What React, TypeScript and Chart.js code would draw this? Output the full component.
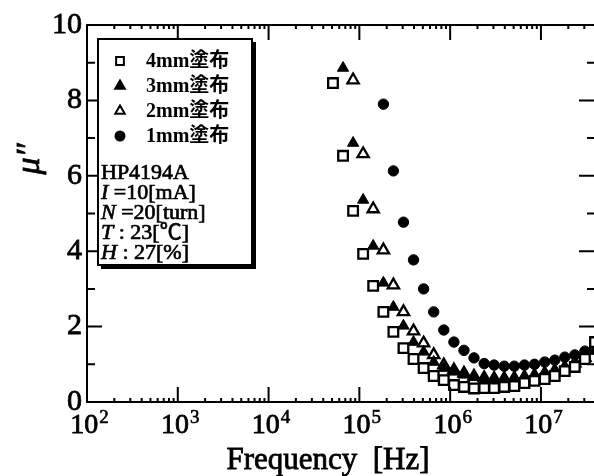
import React, { useEffect, useRef } from 'react';
import { Chart, registerables } from 'chart.js';
import { drawPoint } from 'chart.js/helpers';

Chart.register(...registerables);

// Frequency grid (Hz) shared by all series
const freqHz = [
  5.12e4, 6.61e4, 8.53e4, 1.1e5, 1.42e5, 1.84e5, 2.37e5, 3.06e5, 3.95e5,
  5.1e5, 6.59e5, 8.51e5, 1.1e6, 1.42e6, 1.83e6, 2.37e6, 3.05e6, 3.94e6,
  5.09e6, 6.58e6, 8.49e6, 1.1e7, 1.42e7, 1.83e7, 2.36e7, 3.05e7, 3.94e7,
];

const mm4 = [
  8.46, 6.53, 5.07, 3.93, 3.08, 2.39, 1.86, 1.43, 1.14, 0.9, 0.69, 0.58, 0.45,
  0.4, 0.36, 0.37, 0.37, 0.4, 0.42, 0.5, 0.56, 0.61, 0.69, 0.82, 0.93, 1.14, 1.59,
];
const mm3 = [
  null, 8.86, 6.87, 5.36, 4.14, 3.16, 2.52, 2.02, 1.59, 1.33, 1.06, 0.9, 0.8,
  0.72, 0.66, 0.64, 0.62, 0.62, 0.64, 0.66, 0.7, 0.76, 0.82, 0.9, 1.0, 1.12, 1.35,
];
const mm2 = [
  null, null, 8.54, 6.58, 5.12, 4.03, 3.1, 2.39, 1.88, 1.56, 1.25, 0.98, 0.85,
  0.76, 0.68, 0.64, 0.62, 0.62, 0.63, 0.66, 0.7, 0.76, 0.83, 0.92, 1.03, 1.18, 1.45,
];
const mm1 = [
  null, null, null, null, null, 7.9, 6.13, 4.77, 3.77, 3.0, 2.39, 1.91, 1.59,
  1.37, 1.17, 1.02, 0.98, 0.95, 0.95, 0.98, 1.0, 1.06, 1.11, 1.19, 1.25, 1.35, 1.5,
];

const seriesLabels = ['4mm塗布', '3mm塗布', '2mm塗布', '1mm塗布'];
const seriesStyles = ['rect', 'triangle', 'triangle', 'circle'];
const seriesFilled = [false, true, false, true];

const yTickValues = [0, 2, 4, 6, 8, 10];
const yMinorValues = [1, 3, 5, 7, 9];
const xDecades = [1e2, 1e3, 1e4, 1e5, 1e6, 1e7];
const xExponents = ['2', '3', '4', '5', '6', '7'];
const xMinorMultipliers = [2, 3, 4, 5, 6, 7, 8, 9];
const X_MIN = 100;
const X_MAX = 3.84e7;

const infoLines: [string, string][] = [
  ['', 'HP4194A'],
  ['I', ' =10[mA]'],
  ['N', ' =20[turn]'],
  ['T', ' : 23[℃]'],
  ['H', ' : 27[%]'],
];

const SERIF = '"Liberation Serif", "Times New Roman", serif';
const CJK = '"Liberation Serif", "Noto Sans CJK JP", serif';

function toPoints(vals: (number | null)[]) {
  const out: { x: number; y: number }[] = [];
  vals.forEach((v, i) => {
    if (v !== null) out.push({ x: freqHz[i], y: v });
  });
  return out;
}

function heavyText(ctx: CanvasRenderingContext2D, s: string, x: number, y: number, w = 0.8) {
  ctx.fillText(s, x, y);
  ctx.lineWidth = w;
  ctx.strokeText(s, x, y);
}

const framePlugin = {
  id: 'framePlugin',
  afterDraw(chart: any) {
    const { ctx, chartArea, scales } = chart;
    const { left, right, top, bottom } = chartArea;
    const xs = scales.x;
    const ys = scales.y;
    ctx.save();
    ctx.strokeStyle = '#000';
    ctx.fillStyle = '#000';
    ctx.lineWidth = 2;
    // frame
    ctx.beginPath();
    ctx.moveTo(right + 10, top);
    ctx.lineTo(left, top);
    ctx.lineTo(left, bottom);
    ctx.lineTo(right + 10, bottom);
    ctx.stroke();

    // y ticks
    ctx.beginPath();
    yTickValues.forEach((v) => {
      const py = ys.getPixelForValue(v);
      ctx.moveTo(left, py);
      ctx.lineTo(left + 15, py);
      ctx.moveTo(right, py);
      ctx.lineTo(right - 15, py);
    });
    yMinorValues.forEach((v) => {
      const py = ys.getPixelForValue(v);
      ctx.moveTo(left, py);
      ctx.lineTo(left + 8, py);
      ctx.moveTo(right, py);
      ctx.lineTo(right - 7, py);
    });
    ctx.stroke();

    // x ticks
    ctx.beginPath();
    xDecades.forEach((d) => {
      const px = xs.getPixelForValue(d);
      ctx.moveTo(px, bottom);
      ctx.lineTo(px, bottom - 15);
      ctx.moveTo(px, top);
      ctx.lineTo(px, top + 15);
      xMinorMultipliers.forEach((m) => {
        const f = d * m;
        if (f > X_MAX) return;
        const pm = xs.getPixelForValue(f);
        ctx.moveTo(pm, bottom);
        ctx.lineTo(pm, bottom - 4);
        ctx.moveTo(pm, top);
        ctx.lineTo(pm, top + 4);
      });
    });
    ctx.stroke();

    // x tick labels 10^n
    xDecades.forEach((d, i) => {
      const px = xs.getPixelForValue(d);
      ctx.font = `28px ${SERIF}`;
      const wBase = ctx.measureText('10').width;
      ctx.font = `19px ${SERIF}`;
      const wExp = ctx.measureText(xExponents[i]).width;
      const x0 = px - (wBase + wExp) / 2 + 2;
      ctx.textAlign = 'left';
      ctx.textBaseline = 'alphabetic';
      ctx.font = `28px ${SERIF}`;
      heavyText(ctx, '10', x0, 433);
      ctx.font = `19px ${SERIF}`;
      heavyText(ctx, xExponents[i], x0 + wBase + 1, 423, 0.6);
    });

    // x title
    ctx.font = `31px ${SERIF}`;
    ctx.textAlign = 'center';
    ctx.textBaseline = 'alphabetic';
    heavyText(ctx, 'Frequency  [Hz]', 328, 469);

    // y title
    ctx.save();
    ctx.translate(30, 159);
    ctx.rotate(-Math.PI / 2);
    ctx.font = `italic 34px ${SERIF}`;
    ctx.textAlign = 'center';
    ctx.textBaseline = 'middle';
    heavyText(ctx, 'μ″', 0, 0);
    ctx.restore();

    // legend box with shadow
    const bx = 98, by = 39, bw = 154, bh = 226;
    ctx.fillStyle = '#000';
    ctx.fillRect(bx + 3, by + 3, bw + 1, bh + 1);
    ctx.fillStyle = '#fff';
    ctx.fillRect(bx, by, bw, bh);
    ctx.strokeStyle = '#000';
    ctx.lineWidth = 2;
    ctx.strokeRect(bx, by, bw, bh);

    const rowY = [61, 86, 111, 136];
    seriesLabels.forEach((lab, i) => {
      const yy = rowY[i];
      ctx.strokeStyle = '#000';
      ctx.fillStyle = seriesFilled[i] ? '#000' : '#fff';
      ctx.lineWidth = 2;
      const r = seriesStyles[i] === 'rect' ? 5.5 : seriesStyles[i] === 'circle' ? 4.5 : 5.5;
      drawPoint(ctx, { pointStyle: seriesStyles[i], rotation: 0, radius: r, borderWidth: 2 } as any, 120, yy);
      ctx.fillStyle = '#000';
      ctx.font = `bold 20px ${CJK}`;
      ctx.textAlign = 'left';
      ctx.textBaseline = 'middle';
      ctx.fillText(lab, 146, yy + 1);
    });

    const infoY = [173, 193, 213, 233, 253];
    infoLines.forEach(([it, rest], i) => {
      let x0 = 101;
      ctx.textAlign = 'left';
      ctx.textBaseline = 'middle';
      ctx.fillStyle = '#000';
      ctx.strokeStyle = '#000';
      if (it) {
        ctx.font = `italic 22px ${SERIF}`;
        heavyText(ctx, it, x0, infoY[i], 0.7);
        x0 += ctx.measureText(it).width;
      }
      ctx.font = `22px ${CJK}`;
      heavyText(ctx, rest, x0, infoY[i], 0.7);
    });

    ctx.restore();
  },
};

export default function App() {
  const ref = useRef<HTMLCanvasElement | null>(null);
  useEffect(() => {
    if (!ref.current) return;
    const seriesVals = [mm4, mm3, mm2, mm1];
    const chart = new Chart(ref.current, {
      type: 'scatter',
      data: {
        datasets: seriesVals.map((vals, i) => ({
          label: seriesLabels[i],
          data: toPoints(vals),
          pointStyle: seriesStyles[i] as any,
          pointRadius: seriesStyles[i] === 'circle' ? 5.2 : seriesStyles[i] === 'rect' ? 6.8 : 6.5,
          borderColor: '#000',
          backgroundColor: seriesFilled[i] ? '#000' : '#fff',
          borderWidth: seriesFilled[i] ? 1 : 2.3,
          showLine: false,
        })),
      },
      options: {
        responsive: false,
        animation: false,
        layout: { autoPadding: false, padding: { top: 25, right: 0, left: 0, bottom: 0 } },
        plugins: { legend: { display: false }, tooltip: { enabled: false } },
        scales: {
          x: {
            type: 'logarithmic',
            min: X_MIN,
            max: X_MAX,
            ticks: { display: false },
            grid: { display: false, drawTicks: false },
            border: { display: false },
            afterFit: (s: any) => {
              s.height = 74;
            },
          },
          y: {
            min: 0,
            max: 10,
            ticks: {
              stepSize: 2,
              color: '#000',
              padding: 5,
              textStrokeColor: '#000',
              textStrokeWidth: 0.8,
              font: { family: SERIF, size: 30 },
            },
            grid: { display: false, drawTicks: false },
            border: { display: false },
            afterFit: (s: any) => {
              s.width = 87;
            },
          },
        },
      },
      plugins: [framePlugin],
    });
    return () => chart.destroy();
  }, []);
  return (
    <div style={{ position: 'absolute', left: 0, top: 0, width: 594, height: 476, background: '#fff' }}>
      <canvas ref={ref} width={594} height={476} />
    </div>
  );
}
